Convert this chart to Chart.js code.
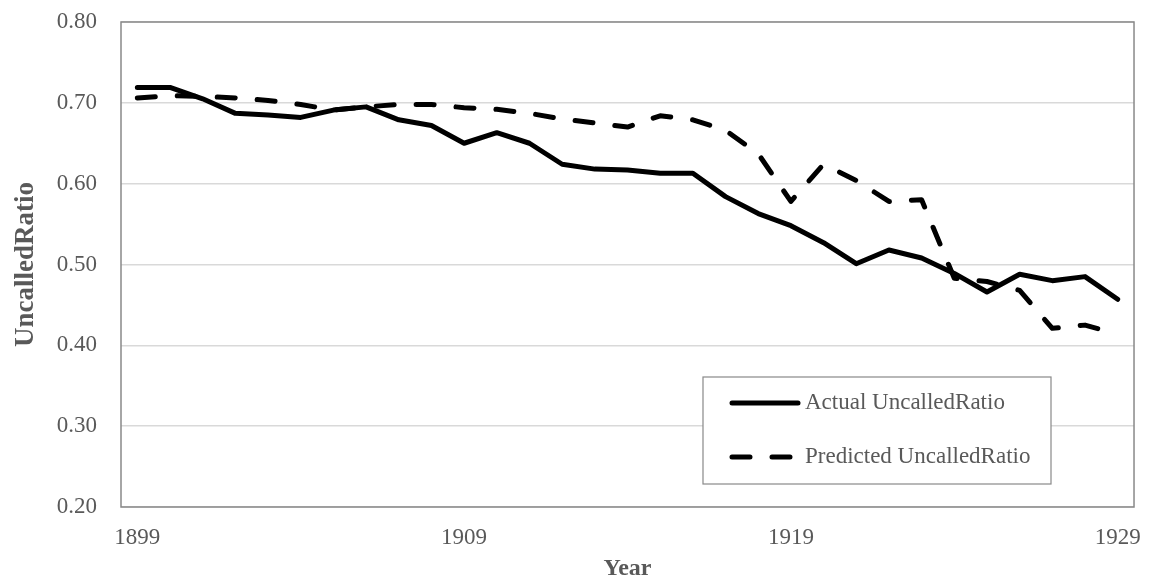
<!DOCTYPE html>
<html>
<head>
<meta charset="utf-8">
<script src="https://cdn.jsdelivr.net/npm/chart.js@4/dist/chart.umd.min.js"></script>
<style>
  html, body { margin: 0; padding: 0; background: #fff; }
  #chart-ratio { display: block; }
</style>
</head>
<body>
<canvas id="chart-ratio" width="1158" height="583"></canvas>
<script>
// Year categories, one point per year
const years = [
  '1899', '1900', '1901', '1902', '1903', '1904', '1905', '1906', '1907', '1908',
  '1909', '1910', '1911', '1912', '1913', '1914', '1915', '1916', '1917', '1918',
  '1919', '1920', '1921', '1922', '1923', '1924', '1925', '1926', '1927', '1928',
  '1929'
];
const xTickYears = ['1899', '1909', '1919', '1929'];

const actualRatio = [
  0.719, 0.719, 0.705, 0.687, 0.685, 0.682, 0.691, 0.695, 0.679, 0.672,
  0.650, 0.663, 0.650, 0.624, 0.618, 0.617, 0.613, 0.613, 0.584, 0.563,
  0.548, 0.527, 0.501, 0.518, 0.508, 0.489, 0.466, 0.488, 0.480, 0.485,
  0.457
];
const predictedRatio = [
  0.706, 0.709, 0.708, 0.706, 0.703, 0.698, 0.691, 0.695, 0.698, 0.698,
  0.694, 0.692, 0.687, 0.680, 0.675, 0.670, 0.684, 0.679, 0.666, 0.637,
  0.578, 0.624, 0.604, 0.578, 0.580, 0.483, 0.479, 0.468, 0.421, 0.425,
  0.414
];

const FONT = '"Liberation Serif", "Times New Roman", serif';
const TEXT_GREY = '#595959';
const FRAME_GREY = '#898989';
const DASH = [18, 22];

// Plot frame + boxed legend inside the plot, Excel style
const frameLegend = {
  id: 'frameLegend',
  beforeDatasetsDraw(chart) {
    const { ctx, chartArea: a } = chart;
    ctx.save();
    ctx.strokeStyle = FRAME_GREY;
    ctx.lineWidth = 1.5;
    ctx.strokeRect(a.left, a.top, a.right - a.left, a.bottom - a.top);
    ctx.restore();
  },
  afterDraw(chart) {
    const { ctx, chartArea: a } = chart;
    const bx = a.left + 582, by = a.top + 355, bw = 348, bh = 107;
    ctx.save();
    ctx.fillStyle = '#fff';
    ctx.fillRect(bx, by, bw, bh);
    ctx.strokeStyle = FRAME_GREY;
    ctx.lineWidth = 1.2;
    ctx.strokeRect(bx, by, bw, bh);

    ctx.font = '23px ' + FONT;
    ctx.fillStyle = TEXT_GREY;
    ctx.textBaseline = 'middle';
    chart.data.datasets.forEach((ds, i) => {
      const y = by + 26 + i * 54;
      ctx.strokeStyle = ds.borderColor;
      ctx.lineWidth = ds.borderWidth;
      ctx.lineCap = 'round';
      ctx.setLineDash(ds.borderDash || []);
      ctx.beginPath();
      ctx.moveTo(bx + 29, y);
      ctx.lineTo(bx + (ds.borderDash ? 88 : 95), y);
      ctx.stroke();
      ctx.setLineDash([]);
      ctx.fillText(ds.label, bx + 102, y);
    });
    ctx.restore();
  }
};

new Chart(document.getElementById('chart-ratio'), {
  type: 'line',
  data: {
    labels: years,
    datasets: [{
      label: 'Actual UncalledRatio',
      data: actualRatio,
      borderColor: '#000',
      borderWidth: 5,
      borderCapStyle: 'round',
      borderJoinStyle: 'round',
      pointRadius: 0,
      tension: 0
    }, {
      label: 'Predicted UncalledRatio',
      data: predictedRatio,
      borderColor: '#000',
      borderWidth: 5,
      borderDash: DASH,
      borderCapStyle: 'round',
      borderJoinStyle: 'round',
      pointRadius: 0,
      tension: 0
    }]
  },
  options: {
    responsive: false,
    animation: false,
    layout: { padding: { top: 22, right: 20, bottom: 0, left: 0 } },
    plugins: {
      legend: { display: false },
      tooltip: { enabled: false }
    },
    scales: {
      x: {
        type: 'category',
        offset: true,
        grid: { display: false, drawTicks: false },
        border: { display: false },
        afterFit: s => { s.height = 76; },
        ticks: {
          autoSkip: false,
          maxRotation: 0,
          padding: 17,
          color: TEXT_GREY,
          font: { family: FONT, size: 23 },
          callback: function(value) {
            const lbl = this.getLabelForValue(value);
            return xTickYears.includes(lbl) ? lbl : '';
          }
        },
        title: {
          display: true,
          text: 'Year',
          color: TEXT_GREY,
          font: { family: FONT, size: 24, weight: 'bold' },
          padding: { top: 0, bottom: 0 }
        }
      },
      y: {
        min: 0.2,
        max: 0.8,
        // fixed axis width; tick padding should not push the plot down
        afterFit: s => { s.width = 121; s.paddingTop = 0; s.paddingBottom = 0; },
        grid: { color: '#d9d9d9', lineWidth: 1.5, drawTicks: false },
        border: { display: false },
        ticks: {
          stepSize: 0.1,
          padding: 24,
          color: TEXT_GREY,
          font: { family: FONT, size: 23 },
          callback: v => v.toFixed(2)
        },
        title: {
          display: true,
          text: 'UncalledRatio',
          color: TEXT_GREY,
          font: { family: FONT, size: 27, weight: 'bold' },
          padding: { top: 10, bottom: 0 }
        }
      }
    }
  },
  plugins: [frameLegend]
});
</script>
</body>
</html>
